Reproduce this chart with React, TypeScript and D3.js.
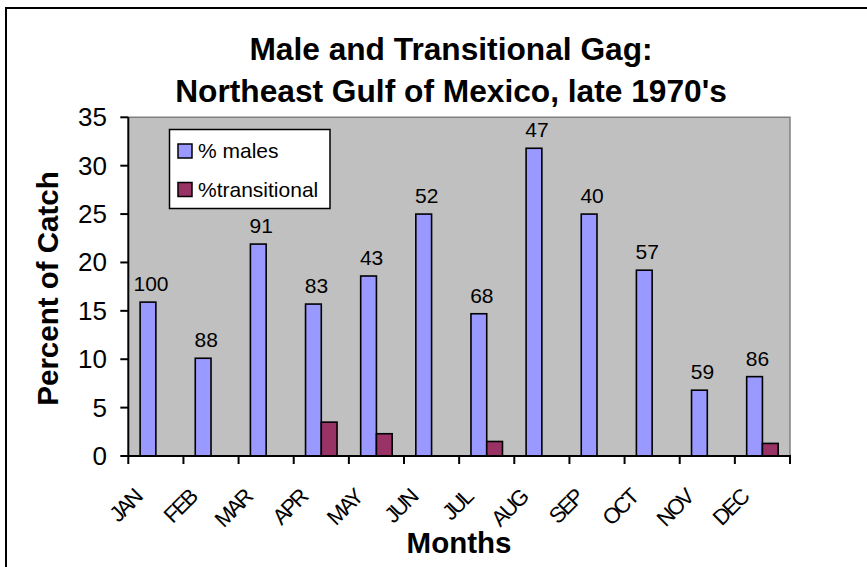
import React from "react";
import * as d3 from "d3";

const months = ["JAN", "FEB", "MAR", "APR", "MAY", "JUN", "JUL", "AUG", "SEP", "OCT", "NOV", "DEC"];
const malesPct = [15.9, 10.1, 21.9, 15.7, 18.6, 25.0, 14.7, 31.8, 25.0, 19.2, 6.8, 8.2];
const transitionalPct = [0, 0, 0, 3.5, 2.3, 0, 1.5, 0, 0, 0, 0, 1.3];
const sampleSizes = [100, 88, 91, 83, 43, 52, 68, 47, 40, 57, 59, 86];
const yTicks = [0, 5, 10, 15, 20, 25, 30, 35];
const seriesNames = ["% males", "%transitional"];
const titleLines = ["Male and Transitional Gag:", "Northeast Gulf of Mexico, late 1970's"];

const W = 867;
const H = 567;
const plot = { left: 128.3, right: 790, top: 117.3, bottom: 456 };
const MALE = "#9999FF";
const TRANS = "#993366";
const FONT = "Arial, 'Liberation Sans', Helvetica, sans-serif";

export default function App() {
  const x = d3.scaleBand<string>().domain(months).range([plot.left, plot.right]).paddingInner(0).paddingOuter(0);
  const y = d3.scaleLinear().domain([0, 35]).range([plot.bottom, plot.top]);
  const band = x.bandwidth();
  const bw = band / 3.5;
  const off = bw * 0.75;

  return (
    <svg width={W} height={H} style={{ position: "absolute", left: 0, top: 0, background: "#fff" }} fontFamily={FONT}>
      <rect x={0} y={0} width={W} height={H} fill="#fff" />
      {/* chart border */}
      <rect x={6} y={8} width={W + 20} height={H + 20} fill="none" stroke="#000" strokeWidth={2} />

      {/* title */}
      {titleLines.map((t, i) => (
        <text key={i} x={451} y={59.5 + i * 42} textAnchor="middle" fontSize={31.7} fontWeight="bold" fill="#000">
          {t}
        </text>
      ))}

      {/* plot area */}
      <rect x={plot.left} y={plot.top} width={plot.right - plot.left} height={plot.bottom - plot.top} fill="#C0C0C0" />
      <path
        d={`M${plot.left},${plot.top}H${plot.right}V${plot.bottom}`}
        fill="none"
        stroke="#808080"
        strokeWidth={1.5}
      />

      {/* bars */}
      {months.map((m, i) => {
        const x0 = (x(m) as number) + off;
        return (
          <g key={m}>
            <rect
              x={x0}
              y={y(malesPct[i])}
              width={bw}
              height={y(0) - y(malesPct[i])}
              fill={MALE}
              stroke="#000"
              strokeWidth={1.6}
            />
            {transitionalPct[i] > 0 && (
              <rect
                x={x0 + bw}
                y={y(transitionalPct[i])}
                width={bw}
                height={y(0) - y(transitionalPct[i])}
                fill={TRANS}
                stroke="#000"
                strokeWidth={1.6}
              />
            )}
            <text x={x0 + bw / 2 + 3} y={y(malesPct[i]) - 11} textAnchor="middle" fontSize={21} fill="#000">
              {sampleSizes[i]}
            </text>
          </g>
        );
      })}

      {/* y axis */}
      <line x1={plot.left} x2={plot.left} y1={plot.top} y2={plot.bottom} stroke="#000" strokeWidth={2} />
      {yTicks.map((t) => (
        <g key={t}>
          <line x1={plot.left - 8} x2={plot.left} y1={y(t)} y2={y(t)} stroke="#000" strokeWidth={2} />
          <text x={107} y={y(t) + 9} textAnchor="end" fontSize={26} fill="#000">
            {t}
          </text>
        </g>
      ))}

      {/* x axis */}
      <line x1={plot.left - 1} x2={plot.right + 1} y1={plot.bottom} y2={plot.bottom} stroke="#000" strokeWidth={2} />
      {[...months.map((m) => x(m) as number), plot.right].map((px, i) => (
        <line key={i} x1={px} x2={px} y1={plot.bottom} y2={plot.bottom + 8} stroke="#000" strokeWidth={2} />
      ))}
      {months.map((m) => {
        const cx = (x(m) as number) + band / 2;
        const px = cx - 13;
        const py = 499;
        return (
          <text
            key={m}
            x={px}
            y={py}
            transform={`rotate(-45 ${px} ${py})`}
            textAnchor="end"
            fontSize={22}
            letterSpacing={-2.4}
            fill="#000"
          >
            {m}
          </text>
        );
      })}

      {/* axis titles */}
      <text x={459} y={553} textAnchor="middle" fontSize={29.5} fontWeight="bold" fill="#000">
        Months
      </text>
      <text
        x={57.5}
        y={288.5}
        transform="rotate(-90 57.5 288.5)"
        textAnchor="middle"
        fontSize={29.5}
        fontWeight="bold"
        fill="#000"
      >
        Percent of Catch
      </text>

      {/* legend */}
      <rect x={169.5} y={129.5} width={160.5} height={79} fill="#fff" stroke="#000" strokeWidth={1.5} />
      {seriesNames.map((s, i) => (
        <g key={s}>
          <rect x={178} y={144 + i * 38.5} width={14} height={14} fill={i === 0 ? MALE : TRANS} stroke="#000" strokeWidth={1.5} />
          <text x={198} y={158 + i * 38.5} fontSize={21} fill="#000">
            {s}
          </text>
        </g>
      ))}
    </svg>
  );
}
